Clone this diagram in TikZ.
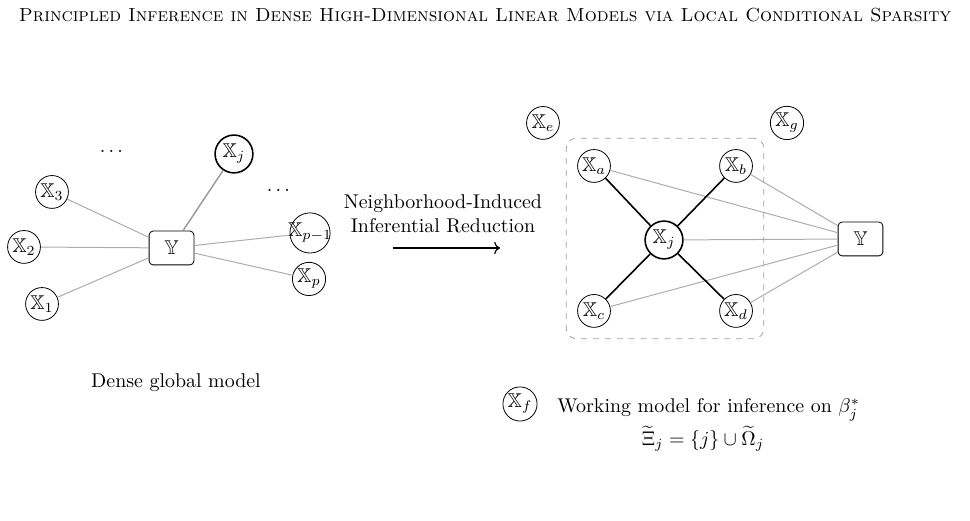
\documentclass[tikz,border=0pt]{standalone}
\usepackage{amsmath,amssymb}
\usepackage{tikz}
\usetikzlibrary{arrows.meta,positioning,fit}
\definecolor{edgeGray}{RGB}{172,172,172}
\definecolor{linkGray}{RGB}{150,150,150}
\definecolor{boxGray}{RGB}{160,160,160}

\begin{document}
\begin{tikzpicture}[x=1cm,y=1cm,
    var/.style={circle, draw, inner sep=0.5pt, minimum size=16.5pt},
    focal/.style={circle, draw, thick, inner sep=0.5pt, minimum size=19pt},
    resp/.style={rectangle, draw, rounded corners=2pt, minimum width=22.5pt, minimum height=17pt},
    weak/.style={edgeGray, line width=0.5pt},
    core/.style={black, line width=0.8pt}]
    \useasboundingbox (0,0) rectangle (17.13,9.20);
    \node (title) at (8.565,8.936) {\fontsize{9.5}{11}\selectfont\textsc{Principled Inference in Dense High-Dimensional Linear Models via Local Conditional Sparsity}};

    % dense global model
    \node[resp] (gY) at (3.029,4.821) {$\mathbb{Y}$};
    \node[var] (gX1) at (0.742,3.832) {$\mathbb{X}_1$};
    \node[var] (gX2) at (0.424,4.839) {$\mathbb{X}_2$};
    \node[var] (gX3) at (0.918,5.810) {$\mathbb{X}_3$};
    \node[focal] (gXj) at (4.132,6.481) {$\mathbb{X}_j$};
    \node[var, inner sep=-1.5pt, minimum size=20pt] (gXq) at (5.475,5.086) {$\mathbb{X}_{p-1}$};
    \node[var] (gXp) at (5.457,4.274) {$\mathbb{X}_p$};
    \node (dotsA) at (1.996,6.517) {$\dots$};
    \node (dotsB) at (4.945,5.829) {$\dots$};
    \foreach \v in {gX1,gX2,gX3,gXq,gXp}
        \draw[weak] (gY) -- (\v);
    \draw[linkGray, line width=0.7pt] (gY) -- (gXj);
    \node (gcap) at (3.108,2.437) {Dense global model};

    % reduction arrow
    \node[align=center] (redlab) at (7.823,5.430) {Neighborhood-Induced\\Inferential Reduction};
    \coordinate (arrS) at (6.940,4.821);
    \coordinate (arrE) at (8.830,4.821);
    \draw[->, line width=0.6pt] (arrS) -- (arrE);

    % working model
    \node[var] (Xe) at (9.589,7.029) {$\mathbb{X}_e$};
    \node[var] (Xg) at (13.898,7.029) {$\mathbb{X}_g$};
    \node[var] (Xa) at (10.490,6.269) {$\mathbb{X}_a$};
    \node[var] (Xb) at (12.998,6.269) {$\mathbb{X}_b$};
    \node[focal] (Xj) at (11.726,4.962) {$\mathbb{X}_j$};
    \node[var] (Xc) at (10.490,3.709) {$\mathbb{X}_c$};
    \node[var] (Xd) at (12.998,3.709) {$\mathbb{X}_d$};
    \node[resp] (Y) at (15.196,4.980) {$\mathbb{Y}$};
    \node[draw=boxGray, dashed, rounded corners=5pt, inner sep=5.5pt, fit=(Xa)(Xd)] (nbhd) {};
    \foreach \v in {Xa,Xb,Xj,Xc,Xd}
        \draw[weak] (Y) -- (\v);
    \foreach \v in {Xa,Xb,Xc,Xd}
        \draw[core] (Xj) -- (\v);
    \node[var] (Xf) at (9.183,2.066) {$\mathbb{X}_f$};
    \node[anchor=base west, inner sep=0pt] (wlab) at (9.837,1.907) {Working model for inference on $\beta_j^*$};
    \node[inner sep=0.5pt] (xi) at (12.415,1.445) {$\widetilde{\Xi}_j = \{j\} \cup \widetilde{\Omega}_j$};
\end{tikzpicture}
\end{document}
